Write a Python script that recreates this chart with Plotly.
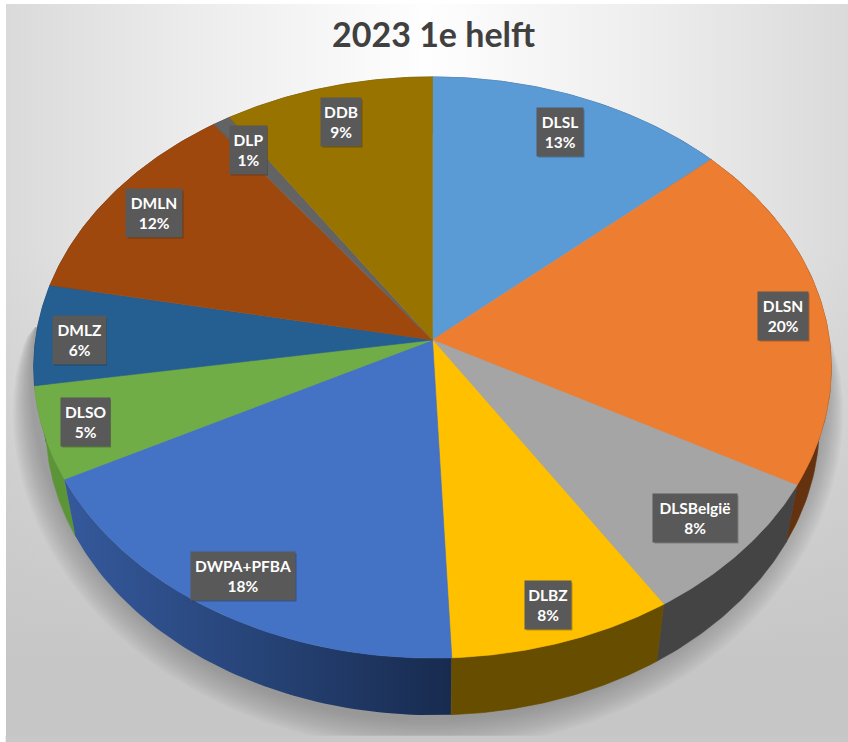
import math
import plotly.graph_objects as go

# ---- data ----
categories = ["DLSL", "DLSN", "DLSBelgië", "DLBZ", "DWPA+PFBA", "DLSO", "DMLZ", "DMLN", "DLP", "DDB"]
values = [13.4, 19.6, 8.0, 8.3, 18.05, 5.15, 5.6, 11.8, 0.8, 9.3]
colors = ["#5b9bd5", "#ed7d31", "#a5a5a5", "#ffc000", "#4472c4", "#70ad47", "#255e91", "#9e480e", "#636363", "#997300"]
wall_colors = ["#2c4d6b", "#65320f", "#444444", "#674d00", "#24417a", "#5c9538", "#173a5a", "#5e2b08", "#3b3b3b", "#5b4500"]
title = "2023 1e helft"

# ---- label layout (pixels: centre x, centre y, box width) ----
label_x = [560, 783, 695, 548, 243, 85, 79, 154, 248, 341]
label_y = [132, 316, 518, 605, 576, 422, 340, 213, 150, 122]
label_w = [46, 50, 84, 46, 104, 49, 53, 56, 37, 40]
LABEL_H = 48

# ---- perspective of the tilted pie ----
CX, CY = 432.5, 340.0
R, S, K = 397.0, 288.0, 0.0946
DEPTH, RIM = 57.0, 0.97
W, H = 848, 742


def top(frac):
    a = 2 * math.pi * frac
    x, y = math.sin(a), math.cos(a)
    d = 1 + K * y
    return CX + R * x / d, CY - S * y / d


def bottom(frac):
    x, y = top(frac)
    return CX + (x - CX) * RIM, y + DEPTH


def frange(a, b, n):
    return [a + (b - a) * i / n for i in range(n + 1)]


fig = go.Figure()


def poly(xs, ys, color=None, **kw):
    args = dict(x=xs, y=ys, mode="lines", fill="toself", hoverinfo="skip", showlegend=False,
                line=dict(width=0.6 if color else 0, color=color or "rgba(0,0,0,0)"))
    if color:
        args["fillcolor"] = color
    args.update(kw)
    fig.add_trace(go.Scatter(**args))


# ---- background panel ----
LEFT, TOP_Y, BOT_Y = 6, 4, 742
rx = [LEFT, W, W, LEFT, LEFT]
ry = [TOP_Y, TOP_Y, BOT_Y, BOT_Y, TOP_Y]
poly(rx, ry, fillgradient=dict(type="horizontal", start=LEFT, stop=W,
     colorscale=[[0, "#dadada"], [0.22, "#ececec"], [0.5, "#fefefe"], [0.78, "#ececec"], [1, "#dadada"]]))
poly(rx, ry, fillgradient=dict(type="vertical", start=250, stop=660,
     colorscale=[[0, "rgba(198,198,198,0)"], [1, "rgba(198,198,198,1)"]]))

# ---- soft shadow under the pie ----
for g in range(14):
    grow = 46 - 3.2 * g
    xs, ys = [], []
    for i in range(121):
        t = math.radians(-8 + 196 * i / 120)
        w = (max(0.0, math.sin(t) + 0.14) / 1.14) ** 0.5
        xs.append(428 + (396 + grow * w) * math.cos(t))
        ys.append(375 + (342 + grow * 0.7 * w) * math.sin(t))
    poly(xs, ys, "rgba(120,120,120,0.05)", line=dict(width=0))
poly([LEFT, W, W, LEFT, LEFT], [736, 736, BOT_Y, BOT_Y, 736], "#c8c8c8")

# ---- pie side walls ----
starts = []
acc = 0.0
total = sum(values)
for v in values:
    starts.append(acc / total)
    acc += v
order = sorted(range(len(values)), key=lambda i: top(starts[i] + values[i] / total / 2)[1])
for i in order:
    fr = frange(starts[i], starts[i] + values[i] / total, 60)
    up = [top(f) for f in fr]
    lo = [bottom(f) for f in reversed(fr)]
    xs = [p[0] for p in up + lo] + [up[0][0]]
    ys = [p[1] for p in up + lo] + [up[0][1]]
    if categories[i] == "DWPA+PFBA":
        poly(xs, ys, line=dict(width=0), fillgradient=dict(type="horizontal", start=62, stop=450,
             colorscale=[[0, "#35599c"], [0.5, "#274478"], [1, "#182b4f"]]))
    else:
        poly(xs, ys, wall_colors[i])

# ---- pie top face ----
for i in range(len(values)):
    fr = frange(starts[i], starts[i] + values[i] / total, 80)
    pts = [(CX, CY)] + [top(f) for f in fr] + [(CX, CY)]
    poly([p[0] for p in pts], [p[1] for p in pts], colors[i])

# ---- data labels ----
shapes = []
for c, v, x, y, w in zip(categories, values, label_x, label_y, label_w):
    shapes.append(dict(type="rect", xref="x", yref="y", x0=x - w / 2 + 1.5, x1=x + w / 2 + 1.5,
                       y0=y - LABEL_H / 2 + 1.5, y1=y + LABEL_H / 2 + 1.5,
                       fillcolor="rgba(0,0,0,0.25)", line=dict(width=0), layer="above"))
    fig.add_annotation(x=x, y=y, xref="x", yref="y", text=f"<b>{c}</b><br><b>{round(v)}%</b>", showarrow=False,
                       width=w, height=LABEL_H, bgcolor="#595959", borderpad=0, align="center", valign="middle",
                       font=dict(family="Lato", size=15.5, color="#ffffff"))

fig.add_annotation(x=433.5, y=33.5, xref="x", yref="y", text=f"<b>{title}</b>", showarrow=False,
                   font=dict(family="Lato", size=34, color="#404040"))

fig.update_layout(
    width=W, height=H, margin=dict(l=0, r=0, t=0, b=0), paper_bgcolor="#ffffff", plot_bgcolor="#ffffff",
    showlegend=False, shapes=shapes,
    xaxis=dict(range=[0, W], visible=False, fixedrange=True),
    yaxis=dict(range=[H, 0], visible=False, fixedrange=True),
)
fig.write_html("out.html", config={"displayModeBar": False},
               post_script="document.body.style.margin='0';document.body.style.overflow='hidden';")
